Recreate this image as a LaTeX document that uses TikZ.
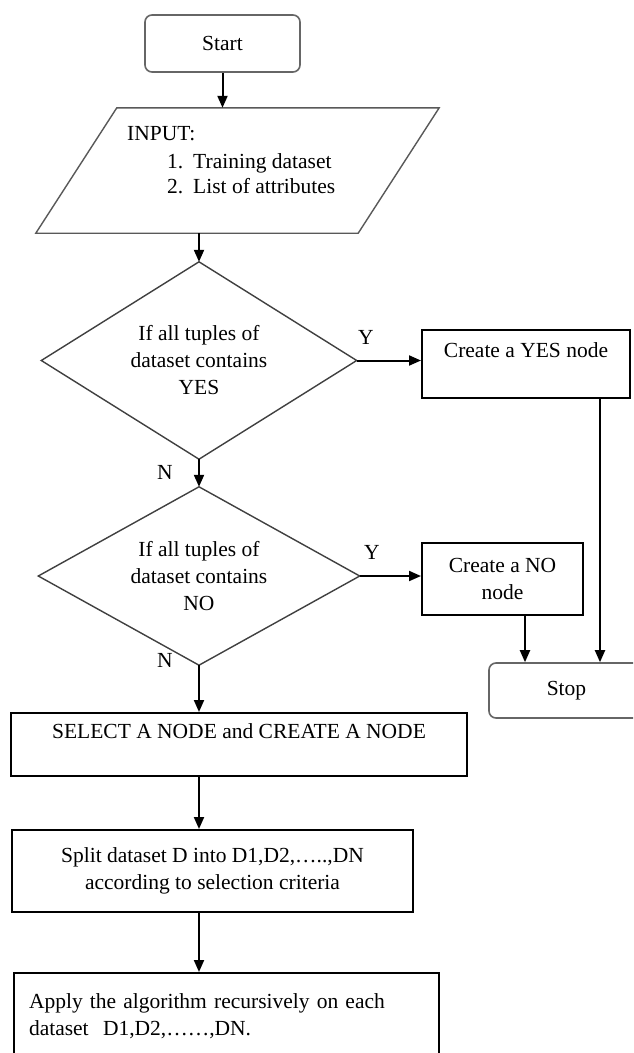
\documentclass[tikz,border=0pt]{standalone}
\usepackage{fontspec}
\setmainfont{Liberation Serif}
\usetikzlibrary{arrows.meta,calc}

\begin{document}
\begin{tikzpicture}[x=1pt,y=-1pt,
  every node/.style={font=\fontsize{21.5}{27}\selectfont, inner sep=0pt},
  box/.style={draw=black, line width=2pt, rectangle, align=center},
  term/.style={draw=black!60, line width=1.6pt, rounded corners=7pt, minimum width=155pt},
  area/.style={rectangle, align=center},
  outline/.style={draw=black!75, line width=1.4pt, line join=miter},
  flow/.style={line width=2pt, -{Triangle[length=12pt,width=10pt]}},
  tag/.style={inner sep=0pt}
]
\useasboundingbox (0,0) rectangle (633,1053);
\clip (0,0) rectangle (633,1053);
\fill[white] (0,0) rectangle (633,1053);

% terminals
\node[term, minimum height=57pt] (start) at (222.5,43.5) {Start};
\node[term, minimum height=55pt] (stop) at (566.5,690.5) {Stop};

% input parallelogram
\node[area, minimum width=403pt, minimum height=125pt] (input) at (237.5,170.5) {};
\draw[outline, draw=black!65] (input.south west) -- ([xshift=-81pt]input.south east)
  -- (input.north east) -- ([xshift=81pt]input.north west) -- cycle;
\node[tag, anchor=base west] (inhead) at (127,140) {INPUT:};
\node[tag, anchor=base west] (initem1) at (167,168) {\makebox[26pt][l]{1.}Training dataset};
\node[tag, anchor=base west] (initem2) at (167,193) {\makebox[26pt][l]{2.}List of attributes};

% decisions
\node[area, minimum width=315pt, minimum height=197pt] (d1) at (199,360.5)
  {If all tuples of\\dataset contains\\YES};
\draw[outline] (d1.north) -- (d1.east) -- (d1.south) -- (d1.west) -- cycle;
\node[area, minimum width=321pt, minimum height=178pt] (d2) at (199,576)
  {If all tuples of\\dataset contains\\NO};
\draw[outline] (d2.north) -- (d2.east) -- (d2.south) -- (d2.west) -- cycle;

% process boxes
\node[box, minimum width=208pt, minimum height=68pt] (yes) at (526,364) {Create a YES node\\\mbox{}};
\node[box, minimum width=161pt, minimum height=72pt] (no) at (502.5,579) {Create a NO\\node};
\node[box, minimum width=456pt, minimum height=63pt] (select) at (239,744.5)
  {SELECT A NODE and CREATE A NODE\\\mbox{}};
\node[box, minimum width=401pt, minimum height=82pt] (split) at (212.5,871)
  {Split dataset D into D1,D2,…..,DN\\according to selection criteria};
\node[box, anchor=north west, minimum width=425pt, minimum height=110pt, align=left, text width=395pt] (apply) at (13,972)
  {Apply the algorithm recursively on each\\dataset\ \ D1,D2,……,DN.\\\mbox{}};

% branch labels
\node[tag] (y1) at (366,337) {Y};
\node[tag] (y2) at (372,552) {Y};
\node[tag] (n1) at (165,472) {N};
\node[tag] (n2) at (165,660) {N};

% connectors
\draw[flow] (start.south) -- (start.south |- input.north);
\draw[flow] (d1.north |- input.south) -- (d1.north);
\draw[flow] (d1.east) -- (d1.east -| yes.west);
\draw[flow] (d1.south) -- (d2.north);
\draw[flow] (d2.east) -- (d2.east -| no.west);
\draw[flow] ([xshift=22.5pt]no.south) -- ([xshift=22.5pt]no.south |- stop.north);
\draw[flow] ([xshift=74pt]yes.south) -- ([xshift=74pt]yes.south |- stop.north);
\draw[flow] (d2.south) -- (d2.south |- select.north);
\draw[flow] (d2.south |- select.south) -- (d2.south |- split.north);
\draw[flow] (d2.south |- split.south) -- (d2.south |- apply.north);
\end{tikzpicture}
\end{document}
